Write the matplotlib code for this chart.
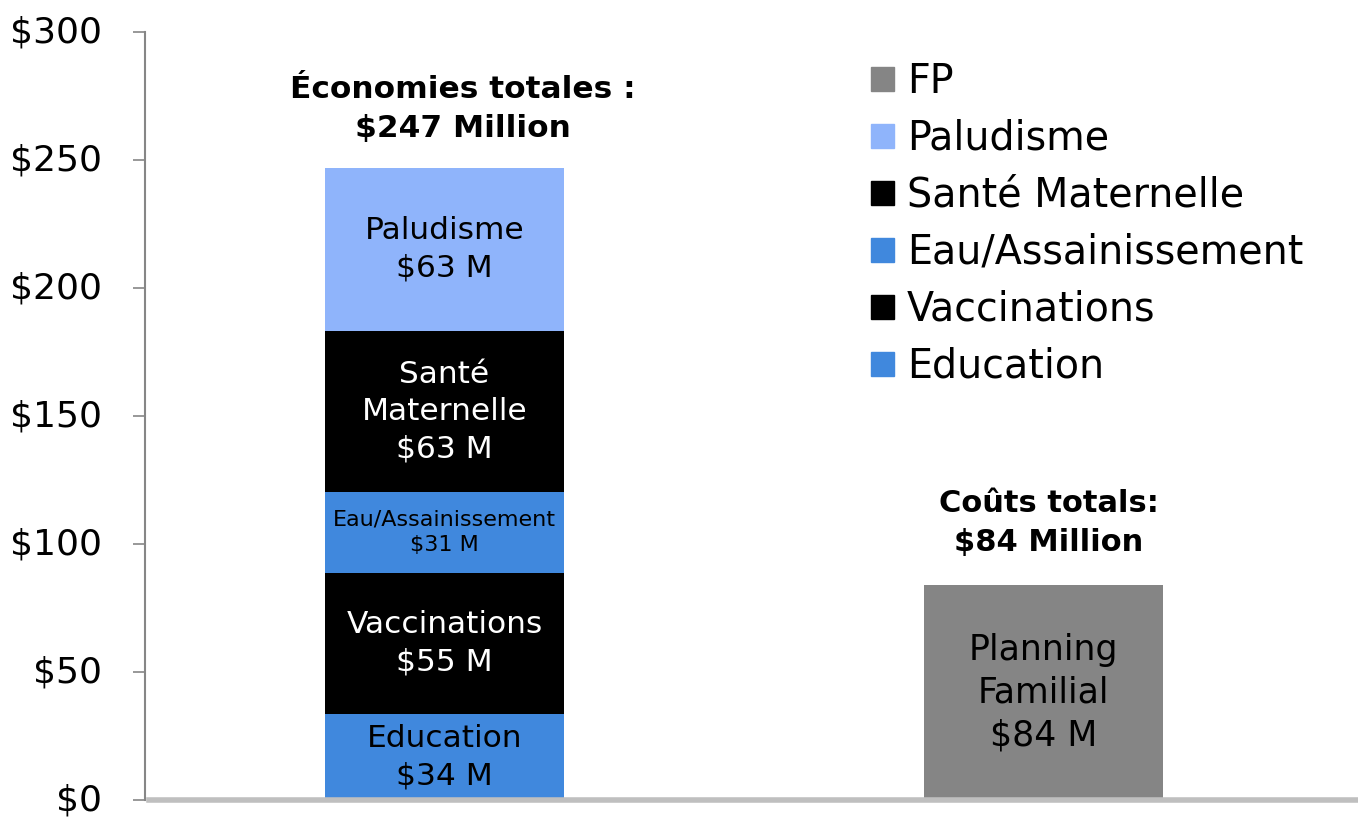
import matplotlib.pyplot as plt
from matplotlib.patches import Patch
from matplotlib.transforms import ScaledTranslation

plt.rcParams['font.family'] = ['DejaVu Sans']

# donnees (millions $)
segments = ['Education', 'Vaccinations', 'Eau/Assainissement', 'Santé Maternelle', 'Paludisme']
seg_values = [33.6, 55.1, 31.6, 62.9, 63.7]
seg_labels = ['Education\n$34 M', 'Vaccinations\n$55 M', 'Eau/Assainissement\n$31 M',
              'Santé\nMaternelle\n$63 M', 'Paludisme\n$63 M']
seg_colors = ['#4088dd', '#000000', '#4088dd', '#000000', '#8fb4fb']
seg_sizes = [22.5, 22.5, 16, 22.5, 22.5]

fp_value = 84
fp_label = 'Planning\nFamilial\n$84 M'
fp_color = '#858585'

titles = ['Économies totales :\n$247 Million', 'Coûts totals:\n$84 Million']
yticks = [0, 50, 100, 150, 200, 250, 300]

fig = plt.figure(figsize=(13.58, 8.17), dpi=100)
ax = fig.add_axes([145/1358, 17/817, 1198/1358, 768/817])

width = 0.4
bottom = 0
for v, lab, c, fs in zip(seg_values, seg_labels, seg_colors, seg_sizes):
    ax.bar(0, v, width, bottom=bottom, color=c)
    tc = 'white' if c == '#000000' else 'black'
    ax.text(0, bottom + v/2, lab, ha='center', va='center', color=tc, fontsize=fs,
            linespacing=1.35)
    bottom += v
total = bottom

ax.bar(1, fp_value, width, color=fp_color)
ax.text(1, fp_value/2, fp_label, ha='center', va='center', fontsize=25, linespacing=1.33)

ax.annotate(titles[0], xy=(0, total), xytext=(13, 18), textcoords='offset points',
            ha='center', va='bottom', fontsize=22.5, fontweight='bold', linespacing=1.45)
ax.annotate(titles[1], xy=(1, fp_value), xytext=(4, 20), textcoords='offset points',
            ha='center', va='bottom', fontsize=22, fontweight='bold', linespacing=1.45)

ax.set_xlim(-0.5, 1.5)
ax.set_ylim(0, 300)
ax.set_yticks(yticks)
ax.set_yticklabels(['$' + str(t) for t in yticks], fontsize=26)
ax.tick_params(axis='y', length=9, width=1.2, color='#868686', pad=22)
for lbl in ax.get_yticklabels():
    lbl.set_transform(lbl.get_transform() + ScaledTranslation(0, 3/100, fig.dpi_scale_trans))
ax.set_xticks([])
for s in ['top', 'right', 'bottom']:
    ax.spines[s].set_visible(False)
ax.spines['left'].set_color('#868686')
ax.spines['left'].set_linewidth(1.5)
ax.axhline(0, xmin=0.003, xmax=1.0125, color='#bfbfbf', lw=4, clip_on=False)

handles = [Patch(color=fp_color, label='FP')]
for name, c in zip(segments[::-1], seg_colors[::-1]):
    handles.append(Patch(color=c, label=name))
fig.legend(handles=handles, loc='upper left', bbox_to_anchor=(855/1358, 1 - 46/817),
           frameon=False, fontsize=28.5, handlelength=0.58, handleheight=0.58,
           handletextpad=0.33, labelspacing=0.43, borderaxespad=0)

fig.savefig('out.png', dpi=100)
